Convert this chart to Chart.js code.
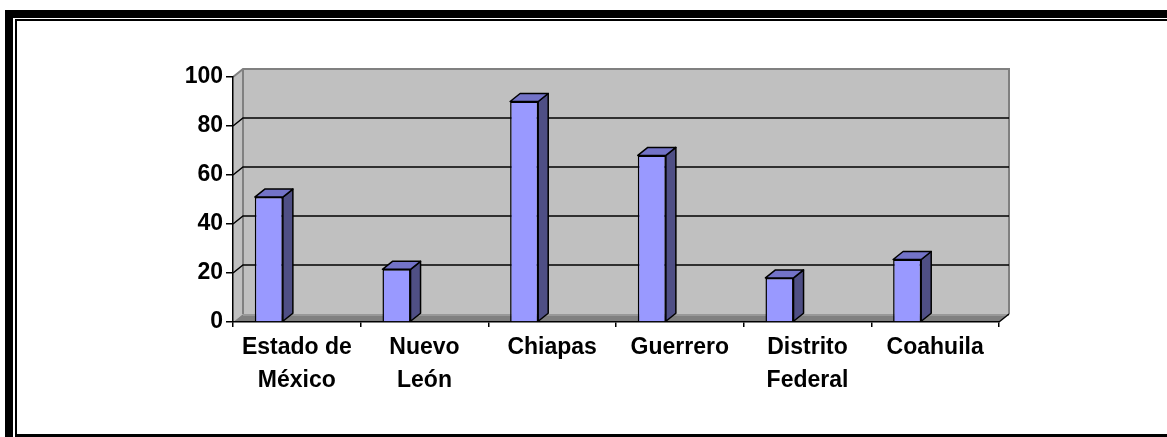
<!DOCTYPE html>
<html>
<head>
<meta charset="utf-8">
<script src="https://cdn.jsdelivr.net/npm/chart.js@4.4.0/dist/chart.umd.min.js"></script>
<style>
html, body { margin: 0; padding: 0; background: #fff; }
#wrap { position: relative; width: 1167px; height: 437px; overflow: hidden; }
.outer { position: absolute; left: 5px; top: 10px; width: 1400px; height: 600px;
         border-left: 8px solid #000; border-top: 8px solid #000; }
.inner { position: absolute; left: 15px; top: 19px; width: 1400px; height: 413px;
         border-left: 2px solid #000; border-top: 2px solid #000; border-bottom: 3px solid #000; }
canvas { position: absolute; left: 0; top: 0; }
</style>
</head>
<body>
<div id="wrap">
  <div class="outer"></div>
  <div class="inner"></div>
  <canvas id="chart" width="1167" height="437"></canvas>
</div>
<script>
// data
const categories = [['Estado de', 'México'], ['Nuevo', 'León'], 'Chiapas', 'Guerrero', ['Distrito', 'Federal'], 'Coahuila'];
const values = [51, 21.5, 90, 68, 18, 25.5];
const yMin = 0, yMax = 100, yStep = 20;

// 3d look
const DX = 10, DY = -8;       // depth offset of the back wall
const BAR_SHIFT = -28;        // excel draws the front face left of the category centre
const FONT = { family: '"Liberation Sans", Arial, sans-serif', size: 23, weight: 'bold' };

const walls3d = {
    id: 'walls3d',
    beforeDraw(chart)
    {
        const { ctx, chartArea: a, scales: { y } } = chart;
        const top = y.getPixelForValue(yMax), bottom = y.getPixelForValue(yMin);
        ctx.save();

        // side wall
        ctx.fillStyle = '#c0c0c0';
        ctx.beginPath();
        ctx.moveTo(a.left, top);
        ctx.lineTo(a.left + DX, top + DY);
        ctx.lineTo(a.left + DX, bottom + DY);
        ctx.lineTo(a.left, bottom);
        ctx.closePath();
        ctx.fill();

        // back wall
        ctx.fillRect(a.left + DX, top + DY, a.right - a.left, bottom - top);

        // floor
        ctx.fillStyle = '#808080';
        ctx.beginPath();
        ctx.moveTo(a.left, bottom);
        ctx.lineTo(a.left + DX, bottom + DY);
        ctx.lineTo(a.right + DX, bottom + DY);
        ctx.lineTo(a.right, bottom);
        ctx.closePath();
        ctx.fill();
        ctx.strokeStyle = '#a0a0a0';
        ctx.lineWidth = 1.5;
        ctx.beginPath();
        ctx.moveTo(a.left + DX, bottom + DY + 1);
        ctx.lineTo(a.right + DX, bottom + DY + 1);
        ctx.stroke();

        // wall edges
        ctx.strokeStyle = '#808080';
        ctx.lineWidth = 2;
        ctx.beginPath();
        ctx.moveTo(a.left, top);
        ctx.lineTo(a.left + DX, top + DY);
        ctx.lineTo(a.right + DX, top + DY);
        ctx.lineTo(a.right + DX, bottom + DY);
        ctx.moveTo(a.left + DX, top + DY);
        ctx.lineTo(a.left + DX, bottom + DY);
        ctx.stroke();

        // gridlines on side and back wall
        ctx.strokeStyle = '#000';
        ctx.lineWidth = 1.5;
        for (let v = yMin + yStep; v < yMax; v += yStep)
        {
            const py = y.getPixelForValue(v);
            ctx.beginPath();
            ctx.moveTo(a.left, py);
            ctx.lineTo(a.left + DX, py + DY);
            ctx.lineTo(a.right + DX, py + DY);
            ctx.stroke();
        }

        // right edge of the floor
        ctx.beginPath();
        ctx.moveTo(a.right, bottom);
        ctx.lineTo(a.right + DX, bottom + DY);
        ctx.stroke();

        ctx.restore();
    },
    beforeDatasetsDraw(chart)
    {
        chart.ctx.save();
        chart.ctx.translate(BAR_SHIFT, 0);
    },
    afterDatasetsDraw(chart)
    {
        const ctx = chart.ctx;
        ctx.lineWidth = 1.5;
        ctx.strokeStyle = '#000';
        ctx.lineJoin = 'round';
        chart.getDatasetMeta(0).data.forEach(bar =>{
            const { x, y, base, width } = bar.getProps(['x', 'y', 'base', 'width'], true);
            const l = x - width / 2, r = x + width / 2;

            // side
            ctx.fillStyle = '#4f4f85';
            ctx.beginPath();
            ctx.moveTo(r, y);
            ctx.lineTo(r + DX, y + DY);
            ctx.lineTo(r + DX, base + DY);
            ctx.lineTo(r, base);
            ctx.closePath();
            ctx.fill();
            ctx.stroke();

            // top
            ctx.fillStyle = '#7373c8';
            ctx.beginPath();
            ctx.moveTo(l, y);
            ctx.lineTo(l + DX, y + DY);
            ctx.lineTo(r + DX, y + DY);
            ctx.lineTo(r, y);
            ctx.closePath();
            ctx.fill();
            ctx.stroke();
        });
        ctx.restore();
    }
};

const config = {
    type: 'bar',
    data: {
        labels: categories,
        datasets: [
            {
                data: values,
                backgroundColor: '#9999ff',
                borderColor: '#000',
                borderWidth: 1.5,
                barPercentage: 0.22,
                categoryPercentage: 1,
            }
        ]
    },
    options: {
        responsive: false,
        animation: false,
        events: [],
        layout: { padding: { left: 0, right: 168, top: 77, bottom: 0 } },
        plugins: { legend: { display: false }, tooltip: { enabled: false } },
        scales: {
            x: {
                offset: true,
                grid: { offset: true, drawOnChartArea: false, tickLength: 5, color: '#000', lineWidth: 1.5 },
                border: { display: true, color: '#000', width: 1.5 },
                ticks: { color: '#000', font: { ...FONT, lineHeight: 1.4 }, padding: 5, maxRotation: 0, autoSkip: false },
                afterFit: scale => { scale.height = 115; }
            },
            y: {
                min: yMin,
                max: yMax,
                grid: { drawOnChartArea: false, tickLength: 7, color: '#000', lineWidth: 1.5 },
                border: { display: true, color: '#000', width: 1.5 },
                ticks: { stepSize: yStep, color: '#000', font: FONT, padding: 3 },
                afterFit: scale => { scale.width = 233; }
            }
        }
    },
    plugins: [walls3d]
};

const chart = new Chart(document.getElementById('chart'), config);
</script>
</body>
</html>
